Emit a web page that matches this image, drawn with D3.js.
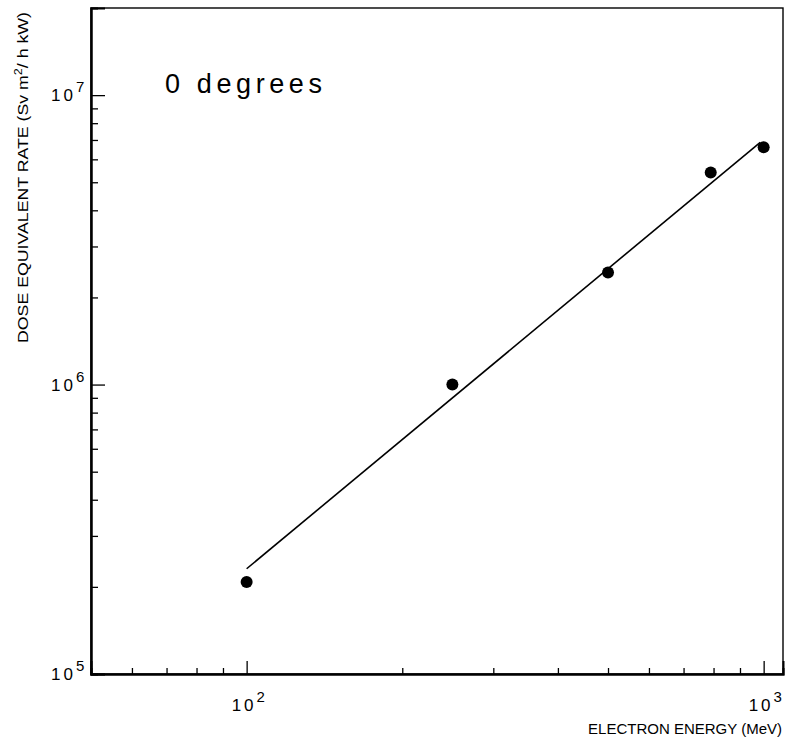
<!DOCTYPE html>
<html>
<head>
<meta charset="utf-8">
<script src="https://cdn.jsdelivr.net/npm/d3@7"></script>
<style>
  body { margin: 0; background: #fff; }
  text { font-family: "Liberation Sans", Arial, sans-serif; fill: #000; }
</style>
</head>
<body>
<script>
// measured points (0 degrees)
const energy = [100, 250, 500, 790, 1000];          // MeV
const dose = [2.08e5, 1.0e6, 2.44e6, 5.4e6, 6.6e6];  // Sv m2 / h kW

// fitted line end points
const fitEnergy = [100, 985];
const fitDose = [2.31e5, 6.87e6];

const xMajor = [100, 1000];
const xMinor = [60, 70, 80, 90, 200, 300, 400, 500, 600, 700, 800, 900];
const yMajor = [1e5, 1e6, 1e7];
const yMinor = [2e5, 3e5, 4e5, 5e5, 6e5, 7e5, 8e5, 9e5,
                2e6, 3e6, 4e6, 5e6, 6e6, 7e6, 8e6, 9e6];

const WIDTH = 788, HEIGHT = 743;
const L = 91, R = 783, T = 8, B = 674;

const svg = d3.select("body").append("svg")
    .attr("width", WIDTH)
    .attr("height", HEIGHT);

const x = d3.scaleLog().domain([50, 1090]).range([L, R]);
const y = d3.scaleLog().domain([1e5, 2e7]).range([B, T]);

// frame
svg.append("rect")
    .attr("x", L).attr("y", T)
    .attr("width", R - L).attr("height", B - T)
    .attr("fill", "none").attr("stroke", "#000").attr("stroke-width", 1.4);

// inward ticks, bottom axis
function xTicks(vals, len) {
    svg.append("g")
        .attr("transform", `translate(0,${B})`)
        .call(d3.axisBottom(x).tickValues(vals).tickSize(-len).tickFormat(""))
        .call(g => g.select(".domain").attr("stroke-width", 2))
        .selectAll("line").attr("stroke-width", 1.3);
}
xTicks(xMinor, 6);
xTicks(xMajor, 13);

// inward ticks, left axis
function yTicks(vals, len) {
    svg.append("g")
        .attr("transform", `translate(${L},0)`)
        .call(d3.axisLeft(y).tickValues(vals).tickSize(-len).tickFormat(""))
        .call(g => g.select(".domain").attr("stroke-width", 2))
        .selectAll("line").attr("stroke-width", 1.3);
}
yTicks(yMinor, 7);
yTicks(yMajor, 14);

// tick labels: 10 with superscript exponent
function powLabel(sel) {
    sel.append("tspan").attr("letter-spacing", 3).text("10");
    sel.append("tspan")
        .attr("dy", -9).attr("font-size", 15)
        .text(d => Math.round(Math.log10(d)));
}

svg.selectAll(".ylab").data(yMajor).join("text")
    .attr("class", "ylab")
    .attr("x", 51)
    .attr("y", d => y(d) + 6)
    .attr("font-size", 17)
    .call(powLabel);

svg.selectAll(".xlab").data(xMajor).join("text")
    .attr("class", "xlab")
    .attr("x", d => x(d) - 15)
    .attr("y", 711)
    .attr("font-size", 17)
    .call(powLabel);

// axis titles
svg.append("text")
    .attr("x", 782)
    .attr("y", 734)
    .attr("text-anchor", "end")
    .attr("font-size", 15)
    .text("ELECTRON ENERGY (MeV)");

const yt = svg.append("text")
    .attr("transform", "translate(28,343) rotate(-90)")
    .attr("font-size", 15.5)
    .attr("textLength", 331)
    .attr("lengthAdjust", "spacingAndGlyphs");
yt.append("tspan").text("DOSE EQUIVALENT RATE (Sv m");
yt.append("tspan").attr("dy", -6).attr("font-size", 11).text("2");
yt.append("tspan").attr("dy", 6).text("/ h kW)");

svg.append("text")
    .attr("x", 165)
    .attr("y", 93)
    .attr("font-size", 27)
    .attr("textLength", 157)
    .attr("lengthAdjust", "spacing")
    .text("0 degrees");

// fit line
svg.append("path")
    .datum(fitEnergy.map((e, i) => [e, fitDose[i]]))
    .attr("d", d3.line().x(d => x(d[0])).y(d => y(d[1])))
    .attr("fill", "none")
    .attr("stroke", "#000")
    .attr("stroke-width", 1.6);

// points
svg.selectAll(".pt").data(energy).join("circle")
    .attr("class", "pt")
    .attr("cx", d => x(d))
    .attr("cy", (d, i) => y(dose[i]))
    .attr("r", 6)
    .attr("fill", "#000");
</script>
</body>
</html>
